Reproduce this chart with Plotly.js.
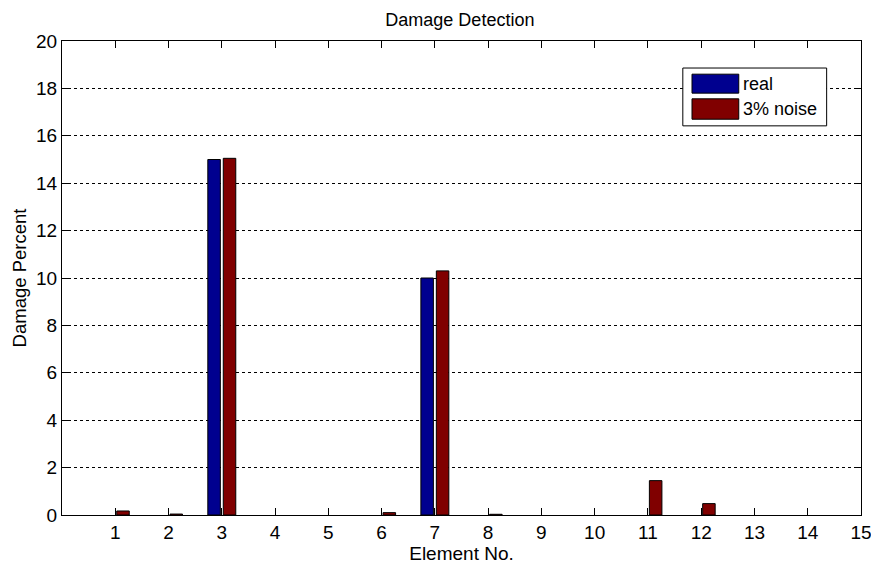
<!DOCTYPE html>
<html><head><meta charset="utf-8">
<script src="https://cdn.plot.ly/plotly-3.0.1.min.js"></script>
<style>html,body{margin:0;padding:0;background:#fff}#c{width:871px;height:566px}</style>
</head><body><div id="c"></div>
<script>
const elements = [1,2,3,4,5,6,7,8,9,10,11,12,13,14];
const realVals = [0,0,15.0,0,0,0,10.0,0,0,0,0,0,0,0];
const noiseVals = [0.17,0.04,15.05,0,0,0.1,10.3,0.03,0,0,1.45,0.48,0,0];
const xTicks = [1,2,3,4,5,6,7,8,9,10,11,12,13,14,15];
const yTicks = [0,2,4,6,8,10,12,14,16,18,20];
const seriesNames = ['real','3% noise'];
const colors = ['#00008F','#800000'];
const font = 'Liberation Sans, Arial, sans-serif';
const tickFont = 'Liberation Sans Narrow, Arial Narrow, Liberation Sans, sans-serif';
const hideZero = v => (v === 0 ? null : v);

const traces = [
  {type:'bar', x:elements, y:realVals.map(hideZero), name:seriesNames[0], marker:{color:colors[0], line:{color:'#000', width:1}}, showlegend:false},
  {type:'bar', x:elements, y:noiseVals.map(hideZero), name:seriesNames[1], marker:{color:colors[1], line:{color:'#000', width:1}}, showlegend:false}
];

const shapes = [
  {type:'rect', xref:'paper', yref:'paper', x0:0.777, x1:0.957, y0:0.821, y1:0.943, line:{color:'#000', width:1}, fillcolor:'#fff'},
  {type:'rect', xref:'paper', yref:'paper', x0:0.7885, x1:0.847, y0:0.890, y1:0.930, line:{color:'#000', width:1}, fillcolor:colors[0]},
  {type:'rect', xref:'paper', yref:'paper', x0:0.7885, x1:0.847, y0:0.835, y1:0.878, line:{color:'#000', width:1}, fillcolor:colors[1]}
];
const annotations = [
  {xref:'paper', yref:'paper', x:0.850, y:0.910, text:seriesNames[0], showarrow:false, xanchor:'left', yanchor:'middle', font:{family:font, size:18, color:'#000'}},
  {xref:'paper', yref:'paper', x:0.850, y:0.857, text:seriesNames[1], showarrow:false, xanchor:'left', yanchor:'middle', font:{family:font, size:18, color:'#000'}}
];

const layout = {
  width:871, height:566,
  margin:{l:62, r:10, t:41, b:51},
  paper_bgcolor:'#fff', plot_bgcolor:'#fff',
  title:{text:'Damage Detection', font:{family:font, size:18, color:'#000'}, x:0.528, xanchor:'center', y:0.966, yanchor:'middle'},
  barmode:'group', bargap:0.42, bargroupgap:0.19,
  xaxis:{range:[0,15.0002], tickvals:xTicks, ticktext:xTicks.map(String), ticks:'inside', ticklen:7, tickcolor:'#000',
    ticklabeloverflow:'allow',
    showline:true, linecolor:'#000', linewidth:1, mirror:'ticks', showgrid:false, zeroline:false,
    tickfont:{family:tickFont, size:19, color:'#000'},
    title:{text:'Element No.', font:{family:font, size:19, color:'#000'}, standoff:2}},
  yaxis:{range:[0,20.0002], tickvals:yTicks, ticks:'inside', ticklen:7, tickcolor:'#000',
    ticklabeloverflow:'allow',
    showline:true, linecolor:'#000', linewidth:1, mirror:'ticks', showgrid:true, gridcolor:'#000', gridwidth:1, griddash:'3px,3px', zeroline:false,
    tickfont:{family:tickFont, size:19, color:'#000'},
    title:{text:'Damage Percent', font:{family:font, size:18.5, color:'#000'}, standoff:4}},
  shapes:shapes, annotations:annotations
};
Plotly.newPlot('c', traces, layout, {displayModeBar:false, staticPlot:true});
</script></body></html>
